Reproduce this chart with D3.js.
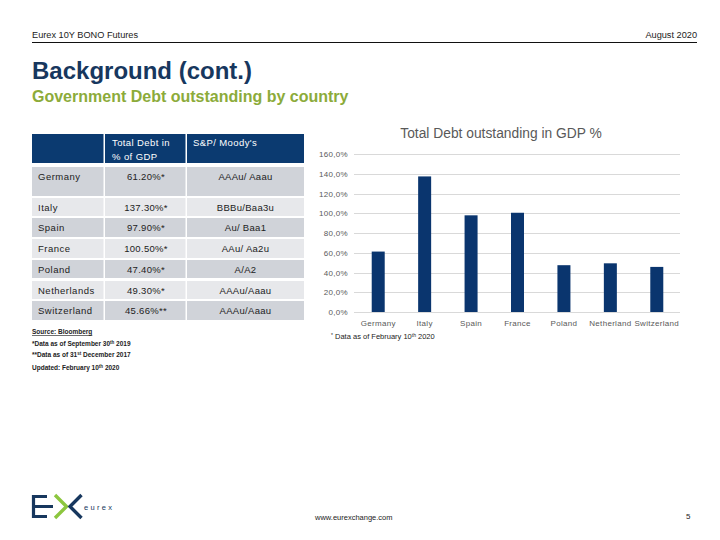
<!DOCTYPE html>
<html><head><meta charset="utf-8">
<script src="https://cdn.jsdelivr.net/npm/d3@7"></script>
<style>
body{margin:0;background:#fff;}
svg{display:block;font-family:"Liberation Sans",Arial,sans-serif;}
</style></head>
<body>
<svg id="c" width="720" height="540"></svg>
<script>
const tableCountries = ["Germany","Italy","Spain","France","Poland","Netherlands","Switzerland"];
const tableDebt = ["61.20%*","137.30%*","97.90%*","100.50%*","47.40%*","49.30%*","45.66%**"];
const tableRatings = ["AAAu/ Aaau","BBBu/Baa3u","Au/ Baa1","AAu/ Aa2u","A/A2","AAAu/Aaau","AAAu/Aaau"];
const chartCategories = ["Germany","Italy","Spain","France","Poland","Netherland","Switzerland"];
const chartValues = [61.2,137.3,97.9,100.5,47.4,49.3,45.66];
const yTicks = [0,20,40,60,80,100,120,140,160];

const svg = d3.select("#c");
const navy = "#0b3a70";
const gray = "#595959";

// Header
svg.append("text").attr("x",32).attr("y",38).attr("font-size",9.2).attr("fill","#222").text("Eurex 10Y BONO Futures");
svg.append("text").attr("x",697).attr("y",38).attr("font-size",9.2).attr("fill","#222").attr("text-anchor","end").text("August 2020");
svg.append("line").attr("x1",32).attr("x2",697).attr("y1",42.5).attr("y2",42.5).attr("stroke","#111").attr("stroke-width",1);
svg.append("text").attr("x",32).attr("y",79).attr("font-size",24).attr("font-weight","bold").attr("fill","#17375e").text("Background (cont.)");
svg.append("text").attr("x",32).attr("y",102).attr("font-size",16).attr("font-weight","bold").attr("fill","#8cab3a").text("Government Debt outstanding by country");

// Table
const colX = [32,105,187,304];
const hdr = svg.append("g");
hdr.selectAll("rect").data([0,1,2]).join("rect")
  .attr("x",i=>colX[i]).attr("y",134).attr("width",i=>colX[i+1]-colX[i]-(i<2?1.5:0)).attr("height",29).attr("fill",navy);
const ht = hdr.append("text").attr("x",112).attr("y",146).attr("font-size",9.5).attr("fill","#fff").attr("letter-spacing",0.4);
ht.append("tspan").attr("x",112).text("Total Debt in");
ht.append("tspan").attr("x",112).attr("dy",13.5).text("% of GDP");
hdr.append("text").attr("x",193).attr("y",146).attr("font-size",9.5).attr("fill","#fff").attr("letter-spacing",0.4).text("S&P/ Moody's");

const rowsY = [[167,196],[198,216],[218,237],[239,258],[260,278],[281,299],[301,320]];
const tg = svg.append("g");
tableCountries.forEach((c,i)=>{
  const [y0,y1] = rowsY[i];
  const fill = i%2===0 ? "#d0d3d9" : "#e7e8eb";
  [0,1,2].forEach(j=>{
    tg.append("rect").attr("x",colX[j]).attr("y",y0).attr("width",colX[j+1]-colX[j]-(j<2?1.5:0)).attr("height",y1-y0).attr("fill",fill);
  });
  const ty = y0+12.5;
  tg.append("text").attr("x",38).attr("y",ty).attr("font-size",9.5).attr("fill","#222").attr("letter-spacing",0.5).text(c);
  tg.append("text").attr("x",(colX[1]+colX[2])/2).attr("y",ty).attr("font-size",9.5).attr("fill","#222").attr("text-anchor","middle").attr("letter-spacing",0.3).text(tableDebt[i]);
  tg.append("text").attr("x",(colX[2]+colX[3])/2).attr("y",ty).attr("font-size",9.5).attr("fill","#222").attr("text-anchor","middle").attr("letter-spacing",0.3).text(tableRatings[i]);
});

// Notes
const notes = svg.append("g").attr("font-size",6.5).attr("fill","#222").attr("font-weight","bold");
notes.append("text").attr("x",32).attr("y",334).attr("text-decoration","underline").text("Source: Bloomberg");
const n1 = notes.append("text").attr("x",32).attr("y",346);
n1.append("tspan").text("*Data as of September 30");
n1.append("tspan").attr("dy",-2).attr("font-size",4.5).text("th");
n1.append("tspan").attr("dy",2).text(" 2019");
const n2 = notes.append("text").attr("x",32).attr("y",357);
n2.append("tspan").text("**Data as of 31");
n2.append("tspan").attr("dy",-2).attr("font-size",4.5).text("st");
n2.append("tspan").attr("dy",2).text(" December 2017");
const n3 = notes.append("text").attr("x",32).attr("y",370);
n3.append("tspan").text("Updated: February 10");
n3.append("tspan").attr("dy",-2).attr("font-size",4.5).text("th");
n3.append("tspan").attr("dy",2).text(" 2020");

// Chart
const x = d3.scaleBand().domain(chartCategories).range([355,680]).paddingInner(0.72).paddingOuter(0.36);
const y = d3.scaleLinear().domain([0,160]).range([312,154]);
svg.append("text").attr("x",501).attr("y",138).attr("font-size",13.8).attr("fill",gray).attr("text-anchor","middle").text("Total Debt outstanding in GDP %");
const grid = svg.append("g");
grid.selectAll("line").data(yTicks).join("line")
  .attr("x1",354).attr("x2",680).attr("y1",d=>Math.round(y(d))+0.5).attr("y2",d=>Math.round(y(d))+0.5)
  .attr("stroke","#d9d9d9").attr("stroke-width",1);
grid.selectAll("text").data(yTicks).join("text")
  .attr("x",348).attr("y",d=>y(d)+3).attr("text-anchor","end").attr("font-size",8).attr("fill",gray).attr("letter-spacing",0.3)
  .text(d=>d.toFixed(1).replace(".",",")+"%");
svg.append("g").selectAll("rect").data(chartValues).join("rect")
  .attr("x",(d,i)=>x(chartCategories[i])).attr("width",x.bandwidth())
  .attr("y",d=>y(d)).attr("height",d=>y(0)-y(d)).attr("fill","#0a356e");
svg.append("g").selectAll("text").data(chartCategories).join("text")
  .attr("x",d=>x(d)+x.bandwidth()/2).attr("y",326).attr("text-anchor","middle").attr("font-size",8).attr("fill",gray).attr("letter-spacing",0.3)
  .text(d=>d);
const fn = svg.append("text").attr("x",331).attr("y",339).attr("font-size",7.5).attr("fill","#222");
fn.append("tspan").attr("font-size",5).attr("dy",-2).text("*");
fn.append("tspan").attr("dy",2).text(" Data as of February 10");
fn.append("tspan").attr("dy",-2).attr("font-size",5).text("th");
fn.append("tspan").attr("dy",2).text(" 2020");

// Footer
svg.append("text").attr("x",315).attr("y",520).attr("font-size",7.5).attr("fill","#222").text("www.eurexchange.com");
svg.append("text").attr("x",686).attr("y",519).attr("font-size",8).attr("fill","#222").text("5");

// Logo
const lg = svg.append("g");
lg.append("path").attr("d","M47,496.5 H33.5 V516.5 H47").attr("fill","none").attr("stroke","#17375e").attr("stroke-width",3.2);
lg.append("line").attr("x1",35).attr("x2",53).attr("y1",506.5).attr("y2",506.5).attr("stroke","#17375e").attr("stroke-width",3);
lg.append("path").attr("d","M55,495 L66.5,506.5 L55,518").attr("fill","none").attr("stroke","#8cc63f").attr("stroke-width",3.4);
lg.append("path").attr("d","M81.5,495 L70,506.5 L81.5,518").attr("fill","none").attr("stroke","#17375e").attr("stroke-width",3.4);
lg.append("text").attr("x",84).attr("y",509.5).attr("font-size",7.5).attr("fill","#17375e").attr("letter-spacing",2.3).text("eurex");
</script>
</body></html>
